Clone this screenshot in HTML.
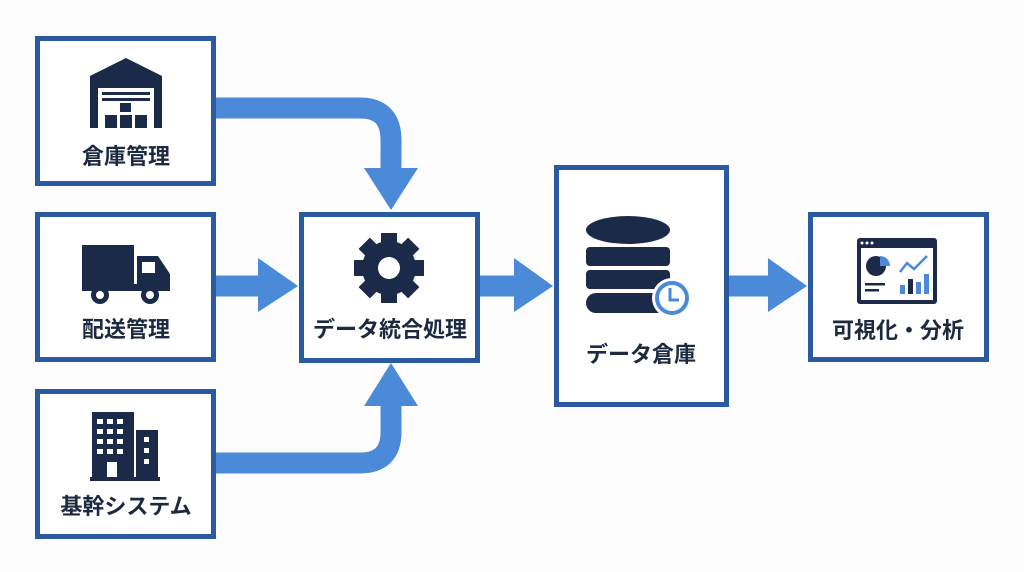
<!DOCTYPE html>
<html><head><meta charset="utf-8"><style>
body{margin:0;background:#fff;}
svg{display:block;}
text{font-family:"Liberation Sans","Noto Sans CJK JP",sans-serif;font-weight:bold;fill:#1b2a40;font-size:22px;text-anchor:middle;}
</style></head><body>
<svg width="1024" height="572" viewBox="0 0 1024 572" xmlns="http://www.w3.org/2000/svg">
<rect width="1024" height="572" fill="#fdfdfd"/>
<g fill="none" stroke="#4a8ad8" stroke-width="21">
<path d="M216 108 H360 Q391 108 391 140 V172"/>
<path d="M216 463 H360 Q391 463 391 432 V402"/>
<path d="M216 286 H262"/>
<path d="M480 286 H518"/>
<path d="M729 286 H772"/>
</g>
<g fill="#4a8ad8">
<polygon points="364,168 418,168 391,210"/>
<polygon points="364,406 418,406 391,363"/>
<polygon points="258,258 258,312 298,286"/>
<polygon points="514,258 514,312 553,286"/>
<polygon points="768,258 768,312 807,286"/>
</g>
<g fill="#fff" stroke="#2a5ba0" stroke-width="5">
<rect x="37.5" y="38.5" width="176" height="145"/>
<rect x="37.5" y="214.5" width="176" height="145"/>
<rect x="37.5" y="391.5" width="176" height="145"/>
<rect x="301.5" y="214.5" width="176" height="146"/>
<rect x="556.5" y="167.5" width="170" height="237"/>
<rect x="810.5" y="214.5" width="176" height="145"/>
</g>
<g fill="#1b2a48">
<path d="M90 128 V76 L126 58 L162 76 V128 H154 V88 H98 V128Z"/>
<rect x="102" y="92" width="48" height="3"/><rect x="102" y="98" width="48" height="3"/>
<rect x="120" y="103" width="11" height="9"/>
<rect x="105" y="115" width="12" height="13"/><rect x="120" y="115" width="12" height="13"/><rect x="135" y="115" width="12" height="13"/>
<rect x="82" y="245" width="52" height="40"/>
<path d="M137 256 H158 L170 274 V290 H137Z"/>
<rect x="82" y="284" width="88" height="7"/>
<circle cx="100" cy="295" r="9"/><circle cx="150" cy="295" r="9"/>
<rect x="92" y="412" width="42" height="68"/><rect x="136" y="430" width="22" height="50"/><rect x="90" y="477" width="70" height="4"/>
<g transform="translate(389,268)">
<circle r="27"/>
<rect x="-8" y="-35" width="16" height="14"/><rect x="-8" y="21" width="16" height="14"/><rect x="-35" y="-8" width="14" height="16"/><rect x="21" y="-8" width="14" height="16"/>
<g transform="rotate(45)"><rect x="-8" y="-35" width="16" height="14"/><rect x="-8" y="21" width="16" height="14"/><rect x="-35" y="-8" width="14" height="16"/><rect x="21" y="-8" width="14" height="16"/></g>
</g>
<ellipse cx="628" cy="230" rx="42" ry="14"/>
<rect x="586" y="247" width="84" height="19" rx="4"/>
<rect x="586" y="270" width="84" height="19" rx="4"/>
<rect x="586" y="293" width="84" height="20" rx="10"/>
<rect x="857" y="238" width="80" height="66" rx="3"/>
</g>
<g fill="#fff">
<rect x="115" y="107" width="3" height="5"/>
<circle cx="100" cy="295" r="4"/><circle cx="150" cy="295" r="4"/>
<rect x="142" y="262" width="13" height="11"/>
<rect x="97" y="419" width="6" height="5"/><rect x="107" y="419" width="6" height="5"/><rect x="117" y="419" width="6" height="5"/>
<rect x="97" y="429" width="6" height="5"/><rect x="107" y="429" width="6" height="5"/><rect x="117" y="429" width="6" height="5"/>
<rect x="97" y="439" width="6" height="5"/><rect x="107" y="439" width="6" height="5"/><rect x="117" y="439" width="6" height="5"/>
<rect x="97" y="449" width="6" height="5"/><rect x="107" y="449" width="6" height="5"/><rect x="117" y="449" width="6" height="5"/>
<rect x="107" y="462" width="10" height="15"/>
<rect x="144" y="437" width="5" height="5"/><rect x="144" y="448" width="5" height="5"/><rect x="144" y="459" width="5" height="5"/>
<circle cx="389" cy="268" r="11"/>
<rect x="861" y="248" width="72" height="52"/>
<circle cx="862" cy="243" r="1.5"/><circle cx="867" cy="243" r="1.5"/><circle cx="872" cy="243" r="1.5"/>
</g>
<circle cx="672" cy="298" r="20" fill="#fff"/>
<circle cx="672" cy="298" r="15" fill="#fff" stroke="#4a8ad8" stroke-width="4"/>
<path d="M670 288 V300 H679" fill="none" stroke="#4a8ad8" stroke-width="3"/>
<circle cx="876" cy="266" r="10" fill="#1b2a48"/>
<path d="M880 256 A10 10 0 0 1 890 266 H880Z" fill="#4a8ad8"/>
<path d="M900 272 L907 263 L914 269 L927 256" fill="none" stroke="#4a8ad8" stroke-width="2.5"/>
<rect x="865" y="283" width="20" height="2.5" fill="#1b2a48"/><rect x="865" y="289" width="14" height="2.5" fill="#1b2a48"/>
<rect x="900" y="285" width="5" height="9" fill="#4a8ad8"/><rect x="908" y="279" width="5" height="15" fill="#1b2a48"/><rect x="916" y="282" width="5" height="12" fill="#4a8ad8"/><rect x="924" y="274" width="5" height="20" fill="#4a8ad8"/>
<text x="126" y="164">倉庫管理</text>
<text x="126" y="337">配送管理</text>
<text x="126" y="514">基幹システム</text>
<text x="390" y="337">データ統合処理</text>
<text x="641" y="362">データ倉庫</text>
<text x="898" y="338">可視化・分析</text>
</svg>
</body></html>
